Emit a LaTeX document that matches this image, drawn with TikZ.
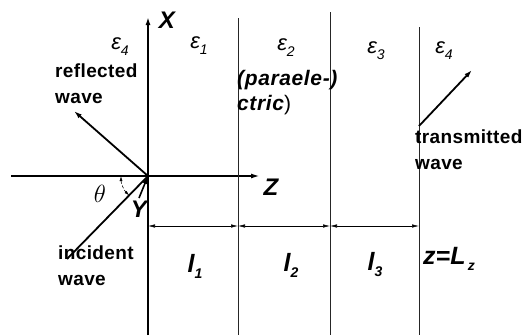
\documentclass[tikz,border=0pt]{standalone}
\usepackage{fontspec}
\setmainfont{Liberation Sans}
\usetikzlibrary{arrows.meta, calc}

\newcommand{\lowidx}[1]{\raisebox{-6pt}{\fontsize{14}{14}\selectfont #1}}

\begin{document}
\begin{tikzpicture}[x=1pt, y=-1pt, >={Latex[length=8pt, width=5pt]},
    lbl/.style={font=\fontsize{19}{26}\selectfont\bfseries\addfontfeature{LetterSpace=2}, inner sep=0pt, align=left},
    axlbl/.style={font=\fontsize{24}{24}\selectfont\bfseries\itshape, inner sep=0pt},
    eps/.style={font=\fontsize{22}{22}\selectfont\itshape, inner sep=0pt},
    len/.style={font=\fontsize{25}{25}\selectfont\bfseries\itshape, inner sep=0pt},
    wall/.style={line width=0.8pt, black!85},
    wave/.style={->, line width=1.8pt},
    dim/.style={{Latex[length=7pt,width=3.5pt]}-{Latex[length=7pt,width=3.5pt]}, line width=0.6pt}]

  \useasboundingbox (0,0) rectangle (522,335);

  % axes
  \coordinate (O) at (148,176);
  \coordinate (xbot) at (148,335);
  \coordinate (xtop) at (148,17);
  \coordinate (zleft) at (11,176);
  \coordinate (zright) at (259,176);
  \draw[->, line width=1.6pt] (xbot) -- (xtop);
  \draw[->, line width=1.1pt] (zleft) -- (zright);
  \draw[->, line width=1.6pt] (139,198) coordinate (ytail) -- (O);

  % layer boundaries
  \coordinate (w1t) at (238,18);  \coordinate (w1b) at (238,335);
  \coordinate (w2t) at (330,12);  \coordinate (w2b) at (330,335);
  \coordinate (w3t) at (419,27);  \coordinate (w3b) at (419,335);
  \draw[wall] (w1t) -- (w1b);
  \draw[wall] (w2t) -- (w2b);
  \draw[wall] (w3t) -- (w3b);

  % thicknesses
  \coordinate (d0) at (148,226);
  \coordinate (d1) at (238,226);
  \coordinate (d2) at (330,226);
  \coordinate (d3) at (419,226);
  \draw[dim] (d0) -- (d1);
  \draw[dim] (d1) -- (d2);
  \draw[dim] (d2) -- (d3);

  % waves
  \coordinate (inc) at (67,259);
  \coordinate (refl) at (74,111);
  \coordinate (tr0) at (419,126);
  \coordinate (tr1) at (472,70);
  \draw[line width=1.8pt] (inc) -- (O);
  \draw[wave] (O) -- (refl);
  \draw[wave] (tr0) -- (tr1);
  \draw[densely dashed, line width=0.6pt, {Latex[length=5pt,width=3pt]}-{Latex[length=5pt,width=3pt]}]
    ($(O)+(-27,0)$) arc[start angle=180, end angle=134, radius=27];

  % labels
  \node[axlbl] (lblX) at (167,20) {X};
  \node[axlbl] (lblZ) at (271,187) {Z};
  \node[axlbl] (lblY) at (139,209) {Y};
  \node[inner sep=0pt, font=\fontsize{26}{26}\selectfont] (lblT) at (100,194) {$\theta$};

  \node[eps] (e4a) at (120,47) {ε\lowidx{4}};
  \node[eps] (e1) at (199,46) {ε\lowidx{1}};
  \node[eps] (e2) at (286,48) {ε\lowidx{2}};
  \node[eps] (e3) at (376,51) {ε\lowidx{3}};
  \node[eps] (e4b) at (444,51) {ε\lowidx{4}};

  \node[lbl, anchor=north west] (refltxt) at (55,64) {reflected\\wave};
  \node[lbl, anchor=north west, font=\fontsize{21}{25}\selectfont\bfseries\addfontfeature{LetterSpace=3}] (midtxt) at (237,70) {\itshape (paraele-)\\\itshape ctric\upshape\mdseries)};
  \node[lbl, anchor=north west] (trtxt) at (415,130) {transmitted\\wave};
  \node[lbl, anchor=north west] (inctxt) at (58,246) {incident\\wave};

  \node[len] (l1) at (195,266) {l\lowidx{1}};
  \node[len] (l2) at (291,265) {l\lowidx{2}};
  \node[len] (l3) at (375,265) {l\lowidx{3}};
  \node[len] (lz) at (449,259) {z=L\lowidx{\,z}};
\end{tikzpicture}
\end{document}
